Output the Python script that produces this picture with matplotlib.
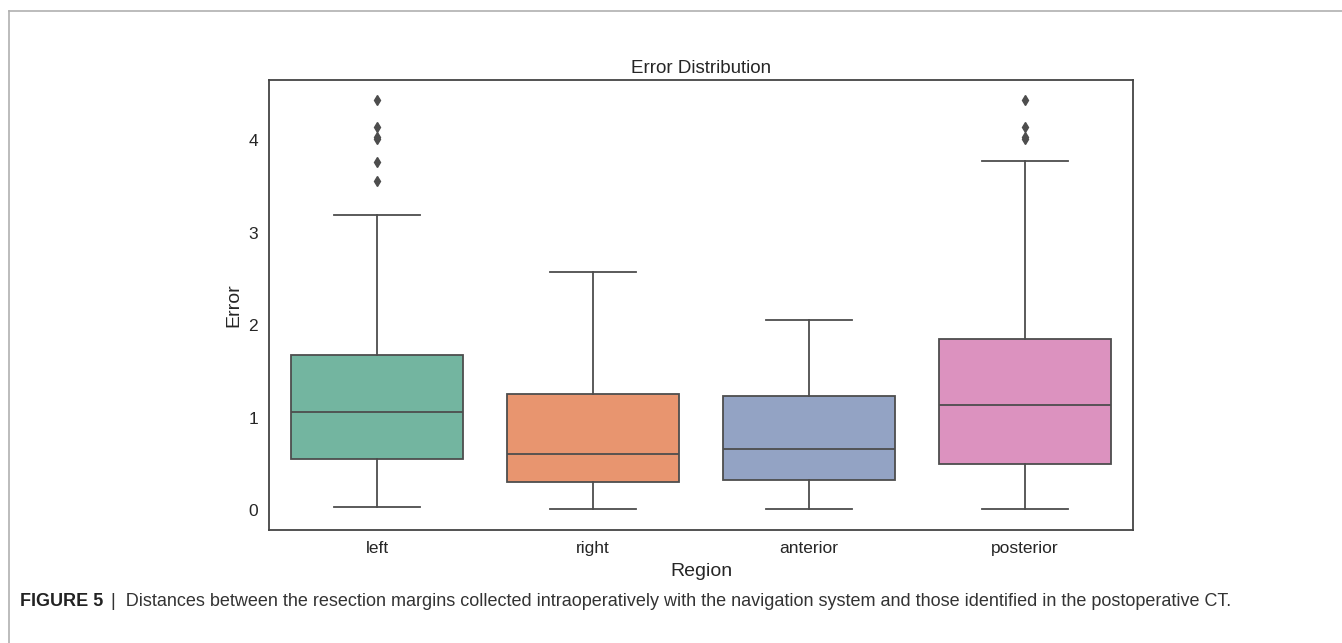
import matplotlib.pyplot as plt
from matplotlib.lines import Line2D

plt.rcParams['font.family'] = ['Liberation Sans', 'DejaVu Sans']

# values
regions = ['left', 'right', 'anterior', 'posterior']
whislo = [0.03, 0.01, 0.01, 0.01]
q1 = [0.55, 0.30, 0.32, 0.50]
med = [1.06, 0.61, 0.66, 1.14]
q3 = [1.68, 1.25, 1.23, 1.85]
whishi = [3.19, 2.57, 2.06, 3.77]
fliers = [
    [3.56, 3.76, 4.01, 4.03, 4.14, 4.43],
    [],
    [],
    [4.01, 4.03, 4.14, 4.43],
]
colors = ['#73b5a0', '#e8956f', '#93a3c4', '#dc92bf']

stats = []
for i, name in enumerate(regions):
    stats.append(dict(label=name, whislo=whislo[i], q1=q1[i], med=med[i],
                      q3=q3[i], whishi=whishi[i], fliers=fliers[i]))

fig = plt.figure(figsize=(13.42, 6.43), dpi=100)
ax = fig.add_axes([269 / 1342, 1 - 530 / 643, 864 / 1342, 450 / 643])

line_col = '#4d4d4d'
bp = ax.bxp(stats, positions=range(len(regions)), widths=0.8, patch_artist=True,
            boxprops=dict(edgecolor=line_col, linewidth=1.3),
            medianprops=dict(color=line_col, linewidth=1.3),
            whiskerprops=dict(color=line_col, linewidth=1.3),
            capprops=dict(color=line_col, linewidth=1.3),
            flierprops=dict(marker='d', markersize=5, markerfacecolor=line_col,
                            markeredgecolor=line_col))
for patch, c in zip(bp['boxes'], colors):
    patch.set_facecolor(c)
for cap in bp['caps']:
    x0, x1 = cap.get_xdata()
    mid = (x0 + x1) / 2
    cap.set_xdata([mid - 0.2, mid + 0.2])

ax.set_xlim(-0.5, 3.5)
ax.set_ylim(-0.216, 4.65)
ax.set_yticks([0, 1, 2, 3, 4])
ax.set_xticks(range(len(regions)))
ax.set_xticklabels(regions)
ax.tick_params(length=0, labelsize=12.5, pad=8, colors='#262626')
for s in ax.spines.values():
    s.set_color('#444444')
    s.set_linewidth(1.3)

ax.set_title('Error Distribution', fontsize=13.5, color='#262626', pad=5)
ax.set_xlabel('Region', fontsize=14, color='#262626', labelpad=5)
ax.set_ylabel('Error', fontsize=14, color='#262626', labelpad=4)

# outer frame (only top and left edges visible)
fig.add_artist(Line2D([9 / 1342, 1], [1 - 11 / 643, 1 - 11 / 643],
                      transform=fig.transFigure, color='#b0b0b0', linewidth=1.2))
fig.add_artist(Line2D([9 / 1342, 9 / 1342], [0, 1 - 11 / 643],
                      transform=fig.transFigure, color='#b0b0b0', linewidth=1.2))

# caption
cap_y = 1 - 602 / 643
t = fig.text(20 / 1342, cap_y, 'FIGURE 5', fontsize=13, fontweight='bold',
             color='#222222', va='center')
fig.canvas.draw()
bb = t.get_window_extent()
fig.text((bb.x1 + 8) / 1342, cap_y,
         '|  Distances between the resection margins collected intraoperatively with the '
         'navigation system and those identified in the postoperative CT.',
         fontsize=13, color='#333333', va='center')

fig.savefig('out.png', dpi=100)
